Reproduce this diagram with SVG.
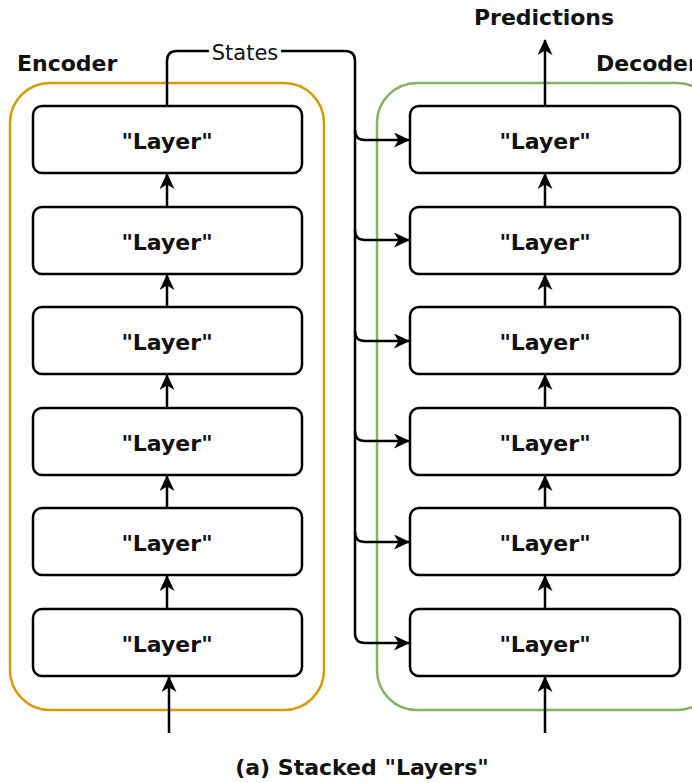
<svg xmlns="http://www.w3.org/2000/svg" width="692" height="783" viewBox="0 0 692 783">
<style>
.layer rect{fill:#fff;stroke:#000;stroke-width:2.5}
.layer text{font-family:"DejaVu Sans",Verdana,sans-serif;font-weight:bold;font-size:22px;text-anchor:middle;fill:#111}
.lbl{font-family:"DejaVu Sans",Verdana,sans-serif;font-weight:bold;font-size:22px;fill:#111}
.con path{fill:none;stroke:#000;stroke-width:2.5}
</style>
<defs>
<marker id="ah" viewBox="0 0 16 15" refX="15" refY="7.5" markerWidth="16" markerHeight="15" markerUnits="userSpaceOnUse" orient="auto">
<path d="M0,0 L16,7.5 L0,15 L4.5,7.5 Z" fill="#000"/>
</marker>
</defs>
<rect width="692" height="783" fill="#fff"/>
<g id="encoder">
<rect x="10" y="83" width="314" height="627" rx="40" fill="none" stroke="#D79B00" stroke-width="2.5"/>
<text class="lbl" x="17" y="71">Encoder</text>
</g>
<g id="decoder">
<rect x="377" y="83" width="340" height="627" rx="40" fill="none" stroke="#82B366" stroke-width="2.5"/>
<text class="lbl" x="596" y="71">Decoder</text>
</g>
<g class="layer" id="enc1"><rect x="33" y="106" width="269" height="67" rx="9"/><text x="167" y="149">"Layer"</text></g>
<g class="layer" id="enc2"><rect x="33" y="207" width="269" height="67" rx="9"/><text x="167" y="250">"Layer"</text></g>
<g class="layer" id="enc3"><rect x="33" y="307" width="269" height="67" rx="9"/><text x="167" y="350">"Layer"</text></g>
<g class="layer" id="enc4"><rect x="33" y="408" width="269" height="67" rx="9"/><text x="167" y="451">"Layer"</text></g>
<g class="layer" id="enc5"><rect x="33" y="508" width="269" height="67" rx="9"/><text x="167" y="551">"Layer"</text></g>
<g class="layer" id="enc6"><rect x="33" y="609" width="269" height="67" rx="9"/><text x="167" y="652">"Layer"</text></g>
<g class="layer" id="dec1"><rect x="410" y="106" width="270" height="67" rx="9"/><text x="545" y="149">"Layer"</text></g>
<g class="layer" id="dec2"><rect x="410" y="207" width="270" height="67" rx="9"/><text x="545" y="250">"Layer"</text></g>
<g class="layer" id="dec3"><rect x="410" y="307" width="270" height="67" rx="9"/><text x="545" y="350">"Layer"</text></g>
<g class="layer" id="dec4"><rect x="410" y="408" width="270" height="67" rx="9"/><text x="545" y="451">"Layer"</text></g>
<g class="layer" id="dec5"><rect x="410" y="508" width="270" height="67" rx="9"/><text x="545" y="551">"Layer"</text></g>
<g class="layer" id="dec6"><rect x="410" y="609" width="270" height="67" rx="9"/><text x="545" y="652">"Layer"</text></g>
<g class="con" id="connectors">
<path d="M167,207 V174" marker-end="url(#ah)"/>
<path d="M167,307 V275" marker-end="url(#ah)"/>
<path d="M167,408 V375" marker-end="url(#ah)"/>
<path d="M167,508 V476" marker-end="url(#ah)"/>
<path d="M167,609 V576" marker-end="url(#ah)"/>
<path d="M169,733 V677" marker-end="url(#ah)"/>
<path d="M545,207 V174" marker-end="url(#ah)"/>
<path d="M545,307 V275" marker-end="url(#ah)"/>
<path d="M545,408 V375" marker-end="url(#ah)"/>
<path d="M545,508 V476" marker-end="url(#ah)"/>
<path d="M545,609 V576" marker-end="url(#ah)"/>
<path d="M545,733 V677" marker-end="url(#ah)"/>
<path d="M545,106 V40" marker-end="url(#ah)"/>
<path d="M167,106 V61 Q167,51 177,51 H345 Q355,51 355,61 V633 Q355,643 365,643 H409" marker-end="url(#ah)"/>
<path d="M355,130 Q355,140 365,140 H409" marker-end="url(#ah)"/>
<path d="M355,230 Q355,240 365,240 H409" marker-end="url(#ah)"/>
<path d="M355,331 Q355,341 365,341 H409" marker-end="url(#ah)"/>
<path d="M355,431 Q355,441 365,441 H409" marker-end="url(#ah)"/>
<path d="M355,532 Q355,542 365,542 H409" marker-end="url(#ah)"/>
</g>
<g id="states-label">
<rect x="209" y="40" width="72" height="24" fill="#fff"/>
<text x="245" y="60" font-family="DejaVu Sans,Verdana,sans-serif" font-size="21" text-anchor="middle" fill="#111">States</text>
</g>
<text class="lbl" x="544" y="25" text-anchor="middle">Predictions</text>
<text class="lbl" x="362" y="775" text-anchor="middle">(a) Stacked "Layers"</text>
</svg>
